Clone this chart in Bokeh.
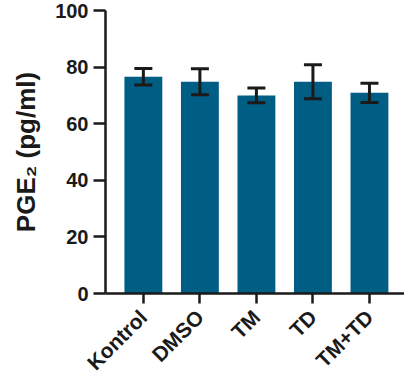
import math
from bokeh.plotting import figure
from bokeh.models import ColumnDataSource, FixedTicker, Whisker, TeeHead, Range1d
from bokeh.embed import file_html
from bokeh.resources import INLINE

categories = ["Kontrol", "DMSO", "TM", "TD", "TM+TD"]
means = [76.6, 74.8, 70.0, 74.8, 70.9]
errors = [2.9, 4.6, 2.6, 6.0, 3.4]
y_ticks = [0, 20, 40, 60, 80, 100]

xs = list(range(1, len(categories) + 1))
src = ColumnDataSource(dict(
    x=xs, top=means,
    upper=[m + e for m, e in zip(means, errors)],
    lower=[m - e for m, e in zip(means, errors)],
))

p = figure(width=404, height=385, output_backend="svg", toolbar_location=None,
           x_range=Range1d(0.33, 5.62), y_range=Range1d(0, 100))
p.min_border_left = 105
p.min_border_right = 0
p.min_border_top = 10
p.min_border_bottom = 92
p.outline_line_color = None
p.xgrid.visible = False
p.ygrid.visible = False
p.background_fill_color = "white"
p.border_fill_color = "white"

p.vbar(x="x", top="top", width=0.67, bottom=0, source=src,
       fill_color="#005E84", line_color=None)

w = Whisker(base="x", upper="upper", lower="lower", source=src, level="overlay",
            line_color="#1a1a1a", line_width=3,
            upper_head=TeeHead(size=18, line_color="#1a1a1a", line_width=3),
            lower_head=TeeHead(size=18, line_color="#1a1a1a", line_width=3))
p.add_layout(w)

font = "Liberation Sans"
for ax in (p.xaxis[0], p.yaxis[0]):
    ax.axis_line_width = 2.5
    ax.axis_line_color = "#1a1a1a"
    ax.major_tick_line_width = 2.5
    ax.major_tick_line_color = "#1a1a1a"
    ax.minor_tick_line_color = None
    ax.major_tick_in = 0
    ax.major_label_text_font = font
    ax.major_label_text_font_style = "bold"
    ax.major_label_text_font_size = "20px"
    ax.major_label_text_color = "#1a1a1a"

p.yaxis.ticker = FixedTicker(ticks=y_ticks)
p.yaxis.major_tick_out = 12
p.yaxis.major_label_standoff = 5
p.yaxis.axis_label = "PGE\u2082 (pg/ml)"
p.yaxis.axis_label_text_font = font
p.yaxis.axis_label_text_font_style = "bold"
p.yaxis.axis_label_text_font_size = "26px"
p.yaxis.axis_label_text_color = "#1a1a1a"
p.yaxis.axis_label_standoff = 11

p.xaxis.ticker = FixedTicker(ticks=xs)
p.xaxis.major_label_overrides = {x: c for x, c in zip(xs, categories)}
p.xaxis.major_label_text_font_size = "21px"
p.xaxis.major_tick_out = 10
p.xaxis.major_label_orientation = math.pi / 4
p.xaxis.major_label_standoff = 10

open("out.html", "w").write(file_html(p, INLINE))
